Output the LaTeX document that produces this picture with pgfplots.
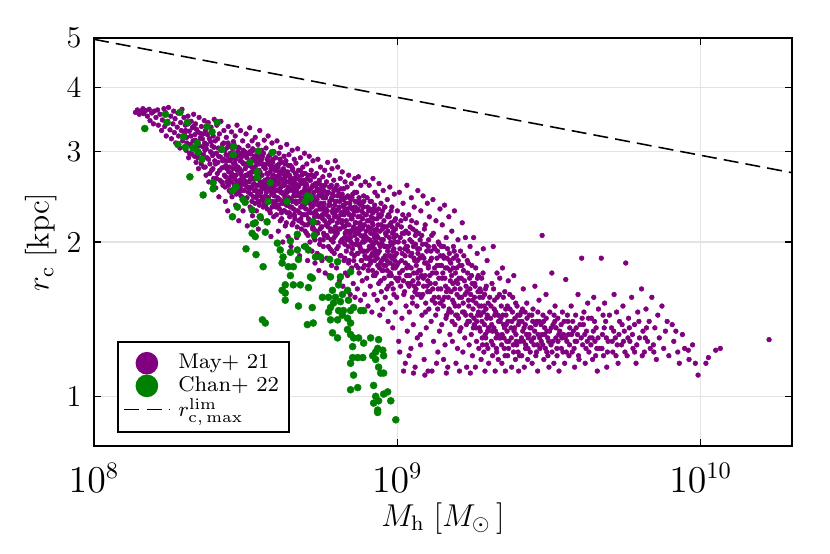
\documentclass[border=0pt]{standalone}
\usepackage{pgfplots}
\pgfplotsset{compat=1.18}
\definecolor{jpurple}{RGB}{128,0,128}
\definecolor{jgreen}{RGB}{0,128,0}
\begin{document}
\begin{tikzpicture}
\begin{axis}[
  at={(0,0)}, anchor=south west,
  scale only axis, width=265.24pt, height=155.04pt,
  xmode=log, ymode=log,
  xmin=1e8, xmax=2e10, ymin=0.8, ymax=5,
  xtick={1e8,1e9,1e10},
  ytick={1,2,3,4,5}, yticklabels={1,2,3,4,5},
  xminorticks=false, yminorticks=false,
  grid=major, major grid style={black!11, line width=0.4pt},
  tick align=inside, xtick pos=both, ytick pos=both,
  major tick length=2.8pt,
  tick style={black, line width=0.5pt},
  axis line style={black, line width=0.6pt},
  xticklabel style={font=\fontsize{13.5}{15}\selectfont, anchor=north, inner sep=0pt, yshift=-6.5pt},
  yticklabel style={font=\fontsize{11.5}{13}\selectfont, anchor=east, inner sep=0pt, xshift=-4.6pt},
  xlabel={$M_{\mathrm{h}}\;[M_{\odot}\,]$},
  ylabel={$r_{\mathrm{c}}\;[\mathrm{kpc}]$},
  xlabel style={font=\fontsize{11.5}{13}\selectfont, at={(axis description cs:0.5,0)}, anchor=north, inner sep=0pt, yshift=-21.3pt},
  ylabel style={font=\fontsize{11.5}{13}\selectfont, at={(axis description cs:-0.053,0.5)}, anchor=south, inner sep=0pt},
  legend cell align=left,
  legend style={at={(0.033,0.032)}, anchor=south west, draw=black, line width=0.6pt,
    font=\fontsize{8.1}{10}\selectfont, row sep=0pt, inner xsep=2.2pt, inner ysep=3.8pt,
    nodes={inner xsep=1.6pt, inner ysep=0.5pt},
    /tikz/every odd column/.append style={column sep=1.5pt}},
]
\addplot[only marks, mark=*, mark size=0.9pt, color=jpurple, mark options={line width=0.2pt}, forget plot]
table[row sep=\\] {m r\\
1.37e8 3.58\\ 1.39e8 3.62\\ 1.41e8 3.55\\ 1.43e8 3.60\\ 1.45e8 3.64\\ 1.46e8 3.56\\
1.48e8 3.61\\ 1.50e8 3.52\\ 1.52e8 3.63\\ 1.53e8 3.45\\ 1.55e8 3.57\\ 1.57e8 3.40\\ 1.58e8 3.60\\
1.60e8 3.50\\ 1.62e8 3.62\\ 1.63e8 3.38\\ 1.65e8 3.55\\ 1.67e8 3.30\\ 1.68e8 3.46\\ 1.70e8 3.64\\ 1.71e8 3.36\\
1.72e8 3.58\\ 1.73e8 3.22\\ 1.75e8 3.44\\ 1.76e8 3.66\\ 1.78e8 3.31\\ 1.79e8 3.52\\ 1.80e8 3.18\\ 1.82e8 3.40\\ 1.83e8 3.60\\ 1.84e8 3.27\\
1.85e8 3.48\\ 1.86e8 3.12\\ 1.88e8 3.35\\ 1.89e8 3.57\\ 1.90e8 3.22\\ 1.92e8 3.05\\ 1.93e8 3.42\\ 1.94e8 3.30\\ 1.95e8 3.63\\ 1.96e8 3.15\\ 1.98e8 3.50\\ 1.99e8 3.26\\
2.00e8 3.38\\ 2.01e8 3.02\\ 2.02e8 3.20\\ 2.04e8 3.52\\ 2.05e8 2.92\\ 2.06e8 3.29\\ 2.08e8 3.10\\ 2.09e8 3.44\\ 2.10e8 2.97\\ 2.11e8 3.34\\ 2.12e8 3.15\\ 2.13e8 3.55\\ 2.14e8 3.05\\ 2.15e8 3.24\\
2.16e8 3.40\\ 2.17e8 2.86\\ 2.18e8 3.12\\ 2.20e8 3.28\\ 2.21e8 2.78\\ 2.22e8 3.50\\ 2.23e8 2.98\\ 2.24e8 3.19\\ 2.26e8 3.36\\ 2.27e8 2.90\\ 2.28e8 3.07\\ 2.29e8 3.25\\ 2.30e8 2.80\\ 2.31e8 3.45\\ 2.32e8 3.02\\
2.33e8 3.30\\ 2.34e8 2.70\\ 2.35e8 3.10\\ 2.36e8 2.92\\ 2.38e8 3.42\\ 2.39e8 2.62\\ 2.40e8 3.18\\ 2.41e8 2.84\\ 2.42e8 3.00\\ 2.43e8 3.35\\ 2.44e8 2.76\\ 2.45e8 3.08\\ 2.46e8 2.95\\ 2.47e8 3.22\\ 2.48e8 2.66\\ 2.49e8 3.47\\ 2.50e8 2.88\\
2.51e8 3.15\\ 2.52e8 2.55\\ 2.53e8 2.98\\ 2.54e8 3.38\\ 2.55e8 2.72\\ 2.56e8 2.86\\ 2.57e8 3.05\\ 2.58e8 2.45\\ 2.59e8 3.25\\ 2.60e8 2.64\\ 2.61e8 2.93\\ 2.62e8 3.44\\ 2.64e8 2.79\\ 2.65e8 3.10\\ 2.66e8 2.58\\ 2.67e8 2.90\\ 2.68e8 3.30\\ 2.69e8 2.70\\
2.70e8 3.02\\ 2.71e8 2.40\\ 2.72e8 2.82\\ 2.73e8 3.20\\ 2.74e8 2.62\\ 2.75e8 2.95\\ 2.76e8 2.30\\ 2.77e8 3.36\\ 2.78e8 2.74\\ 2.79e8 2.52\\ 2.80e8 3.08\\ 2.81e8 2.88\\ 2.82e8 2.68\\ 2.84e8 3.28\\ 2.85e8 2.45\\ 2.86e8 2.98\\ 2.87e8 2.78\\ 2.88e8 3.14\\ 2.90e8 2.58\\ 2.91e8 2.85\\
2.92e8 3.22\\ 2.93e8 2.36\\ 2.94e8 2.70\\ 2.95e8 2.94\\ 2.96e8 3.38\\ 2.97e8 2.55\\ 2.98e8 2.80\\ 3.00e8 2.20\\ 3.01e8 3.05\\ 3.02e8 2.64\\ 3.03e8 2.88\\ 3.04e8 3.30\\ 3.05e8 2.46\\ 3.06e8 2.75\\ 3.07e8 2.98\\ 3.08e8 2.60\\ 3.09e8 3.15\\ 3.10e8 2.30\\ 3.11e8 2.84\\ 3.12e8 2.68\\ 3.13e8 2.52\\ 3.14e8 3.00\\
3.15e8 2.78\\ 3.16e8 2.42\\ 3.17e8 3.25\\ 3.18e8 2.62\\ 3.19e8 2.92\\ 3.20e8 2.15\\ 3.21e8 2.70\\ 3.22e8 3.08\\ 3.23e8 2.50\\ 3.25e8 2.86\\ 3.26e8 3.34\\ 3.27e8 2.34\\ 3.28e8 2.65\\ 3.29e8 2.97\\ 3.30e8 2.56\\ 3.31e8 2.80\\ 3.32e8 3.15\\ 3.33e8 2.25\\ 3.34e8 2.74\\ 3.35e8 2.45\\ 3.36e8 3.02\\ 3.37e8 2.60\\ 3.38e8 2.89\\ 3.39e8 2.38\\
3.40e8 3.20\\ 3.41e8 2.58\\ 3.42e8 2.82\\ 3.43e8 2.30\\ 3.44e8 2.95\\ 3.45e8 2.68\\ 3.46e8 2.48\\ 3.47e8 3.10\\ 3.48e8 2.12\\ 3.50e8 2.76\\ 3.51e8 2.40\\ 3.52e8 3.30\\ 3.53e8 2.62\\ 3.54e8 2.88\\ 3.55e8 2.52\\ 3.56e8 2.22\\ 3.57e8 3.02\\ 3.58e8 2.70\\ 3.59e8 2.44\\ 3.60e8 2.84\\ 3.61e8 2.34\\ 3.62e8 2.98\\ 3.63e8 2.56\\ 3.64e8 3.16\\ 3.66e8 2.64\\
3.67e8 2.78\\ 3.68e8 2.36\\ 3.69e8 3.05\\ 3.70e8 2.50\\ 3.72e8 2.90\\ 3.73e8 2.18\\ 3.74e8 2.66\\ 3.75e8 3.22\\ 3.76e8 2.44\\ 3.77e8 2.72\\ 3.79e8 2.58\\ 3.80e8 2.96\\ 3.81e8 2.28\\ 3.82e8 2.82\\ 3.83e8 2.05\\ 3.85e8 2.62\\ 3.86e8 3.12\\ 3.87e8 2.40\\ 3.88e8 2.86\\ 3.89e8 2.54\\ 3.90e8 2.70\\ 3.91e8 2.24\\ 3.92e8 3.00\\ 3.93e8 2.46\\ 3.94e8 2.76\\ 3.95e8 2.60\\
3.97e8 2.92\\ 3.98e8 2.34\\ 4.00e8 2.68\\ 4.01e8 3.15\\ 4.02e8 2.52\\ 4.04e8 2.80\\ 4.05e8 2.10\\ 4.06e8 2.60\\ 4.07e8 2.98\\ 4.09e8 2.42\\ 4.10e8 2.74\\ 4.11e8 2.20\\ 4.12e8 3.06\\ 4.14e8 2.56\\ 4.15e8 2.86\\ 4.16e8 2.38\\ 4.17e8 2.64\\ 4.19e8 2.00\\ 4.20e8 2.48\\ 4.21e8 2.78\\ 4.22e8 2.30\\ 4.23e8 2.94\\ 4.24e8 2.58\\ 4.25e8 2.70\\ 4.26e8 2.44\\ 4.27e8 2.15\\
4.28e8 2.62\\ 4.29e8 2.88\\ 4.31e8 2.36\\ 4.32e8 3.10\\ 4.33e8 2.50\\ 4.35e8 2.74\\ 4.36e8 2.05\\ 4.37e8 2.56\\ 4.39e8 2.96\\ 4.40e8 2.28\\ 4.42e8 2.68\\ 4.43e8 2.42\\ 4.44e8 2.82\\ 4.46e8 1.96\\ 4.47e8 2.60\\ 4.48e8 2.34\\ 4.50e8 3.02\\ 4.51e8 2.52\\ 4.52e8 2.76\\ 4.53e8 2.18\\ 4.55e8 2.46\\ 4.56e8 2.66\\ 4.57e8 2.90\\ 4.58e8 2.25\\ 4.59e8 2.58\\ 4.60e8 2.40\\ 4.61e8 2.72\\
4.62e8 2.30\\ 4.63e8 2.85\\ 4.65e8 2.52\\ 4.66e8 2.04\\ 4.68e8 2.66\\ 4.69e8 3.04\\ 4.70e8 2.40\\ 4.72e8 2.76\\ 4.73e8 2.20\\ 4.74e8 2.58\\ 4.76e8 1.88\\ 4.77e8 2.46\\ 4.79e8 2.92\\ 4.80e8 2.34\\ 4.81e8 2.62\\ 4.83e8 2.12\\ 4.84e8 2.70\\ 4.86e8 2.50\\ 4.87e8 2.26\\ 4.88e8 2.80\\ 4.90e8 1.96\\ 4.91e8 2.44\\ 4.92e8 2.64\\ 4.93e8 2.38\\ 4.94e8 2.98\\ 4.95e8 2.16\\ 4.96e8 2.55\\ 4.97e8 2.72\\
4.99e8 2.32\\ 5.00e8 2.60\\ 5.02e8 2.08\\ 5.03e8 2.84\\ 5.05e8 2.46\\ 5.06e8 1.84\\ 5.08e8 2.70\\ 5.09e8 2.22\\ 5.11e8 2.52\\ 5.12e8 2.94\\ 5.14e8 2.38\\ 5.15e8 2.00\\ 5.17e8 2.64\\ 5.18e8 2.28\\ 5.20e8 2.76\\ 5.21e8 2.44\\ 5.23e8 1.92\\ 5.24e8 2.56\\ 5.26e8 2.14\\ 5.27e8 2.88\\ 5.29e8 2.36\\ 5.30e8 2.50\\ 5.31e8 2.04\\ 5.32e8 2.68\\ 5.33e8 2.24\\ 5.34e8 2.42\\ 5.35e8 1.82\\ 5.36e8 2.58\\
5.38e8 2.40\\ 5.39e8 2.10\\ 5.41e8 2.72\\ 5.42e8 2.26\\ 5.44e8 1.90\\ 5.45e8 2.54\\ 5.47e8 2.90\\ 5.48e8 2.18\\ 5.50e8 2.46\\ 5.51e8 1.76\\ 5.53e8 2.64\\ 5.55e8 2.32\\ 5.56e8 2.02\\ 5.58e8 2.80\\ 5.59e8 2.38\\ 5.61e8 2.14\\ 5.62e8 2.58\\ 5.64e8 1.84\\ 5.65e8 2.48\\ 5.67e8 2.22\\ 5.68e8 2.68\\ 5.70e8 1.96\\ 5.71e8 2.34\\ 5.73e8 2.52\\ 5.74e8 2.06\\ 5.76e8 2.76\\ 5.77e8 2.28\\ 5.78e8 1.74\\
5.80e8 2.44\\ 5.82e8 2.16\\ 5.84e8 2.62\\ 5.85e8 1.86\\ 5.87e8 2.30\\ 5.89e8 2.86\\ 5.90e8 2.04\\ 5.92e8 2.50\\ 5.94e8 2.24\\ 5.95e8 1.72\\ 5.97e8 2.70\\ 5.99e8 2.36\\ 6.00e8 1.94\\ 6.02e8 2.56\\ 6.04e8 2.12\\ 6.05e8 2.42\\ 6.07e8 1.80\\ 6.09e8 2.78\\ 6.10e8 2.20\\ 6.12e8 2.48\\ 6.14e8 2.00\\ 6.15e8 2.32\\ 6.17e8 2.64\\ 6.19e8 1.90\\ 6.20e8 2.10\\ 6.22e8 2.54\\ 6.23e8 2.26\\ 6.24e8 2.88\\
6.26e8 2.06\\ 6.28e8 2.40\\ 6.30e8 1.78\\ 6.32e8 2.58\\ 6.34e8 2.18\\ 6.36e8 2.80\\ 6.38e8 1.96\\ 6.40e8 2.32\\ 6.42e8 2.48\\ 6.44e8 1.68\\ 6.46e8 2.12\\ 6.48e8 2.66\\ 6.50e8 2.26\\ 6.52e8 1.88\\ 6.54e8 2.44\\ 6.56e8 2.02\\ 6.58e8 2.74\\ 6.59e8 2.20\\ 6.61e8 1.64\\ 6.63e8 2.36\\ 6.65e8 2.54\\ 6.67e8 1.84\\ 6.68e8 2.14\\ 6.70e8 2.30\\ 6.71e8 1.98\\ 6.72e8 2.62\\ 6.73e8 2.08\\ 6.74e8 1.74\\
6.77e8 2.38\\ 6.79e8 1.92\\ 6.81e8 2.16\\ 6.83e8 2.56\\ 6.85e8 1.72\\ 6.87e8 2.28\\ 6.89e8 2.04\\ 6.91e8 2.70\\ 6.93e8 1.84\\ 6.95e8 2.44\\ 6.97e8 2.10\\ 6.99e8 1.58\\ 7.01e8 2.34\\ 7.03e8 2.00\\ 7.05e8 2.60\\ 7.07e8 1.78\\ 7.09e8 2.22\\ 7.11e8 1.94\\ 7.13e8 2.48\\ 7.15e8 1.66\\ 7.17e8 2.14\\ 7.19e8 2.30\\ 7.21e8 1.88\\ 7.23e8 2.06\\ 7.24e8 2.66\\ 7.25e8 1.56\\ 7.26e8 2.40\\ 7.27e8 1.98\\
7.30e8 2.18\\ 7.32e8 1.80\\ 7.34e8 2.50\\ 7.36e8 2.02\\ 7.38e8 1.62\\ 7.40e8 2.32\\ 7.42e8 1.90\\ 7.44e8 2.68\\ 7.46e8 2.10\\ 7.48e8 1.74\\ 7.50e8 2.40\\ 7.52e8 1.96\\ 7.54e8 2.24\\ 7.56e8 1.54\\ 7.58e8 2.58\\ 7.60e8 1.84\\ 7.62e8 2.12\\ 7.64e8 2.36\\ 7.66e8 1.68\\ 7.68e8 2.00\\ 7.70e8 2.28\\ 7.72e8 1.78\\ 7.74e8 2.46\\ 7.76e8 1.92\\ 7.78e8 2.16\\ 7.80e8 1.58\\ 7.82e8 2.06\\ 7.84e8 2.62\\
7.88e8 1.86\\ 7.90e8 2.26\\ 7.93e8 1.70\\ 7.95e8 2.44\\ 7.98e8 2.02\\ 8.00e8 1.50\\ 8.02e8 2.14\\ 8.05e8 1.80\\ 8.07e8 2.58\\ 8.10e8 1.94\\ 8.12e8 2.32\\ 8.14e8 1.64\\ 8.17e8 2.08\\ 8.19e8 1.88\\ 8.21e8 2.40\\ 8.24e8 1.46\\ 8.26e8 2.18\\ 8.28e8 1.76\\ 8.31e8 2.66\\ 8.33e8 1.98\\ 8.35e8 2.22\\ 8.37e8 1.58\\ 8.40e8 2.04\\ 8.42e8 1.84\\ 8.43e8 2.50\\ 8.44e8 1.72\\ 8.46e8 2.10\\ 8.47e8 1.92\\
8.50e8 2.30\\ 8.53e8 1.74\\ 8.55e8 2.06\\ 8.58e8 1.54\\ 8.60e8 2.46\\ 8.63e8 1.90\\ 8.65e8 2.16\\ 8.68e8 1.66\\ 8.70e8 2.60\\ 8.73e8 1.98\\ 8.75e8 1.44\\ 8.78e8 2.24\\ 8.80e8 1.82\\ 8.83e8 2.38\\ 8.85e8 1.60\\ 8.88e8 2.02\\ 8.90e8 1.76\\ 8.93e8 2.12\\ 8.95e8 1.48\\ 8.98e8 2.52\\ 9.00e8 1.86\\ 9.03e8 2.20\\ 9.05e8 1.70\\ 9.08e8 1.96\\ 9.10e8 2.34\\ 9.12e8 1.56\\ 9.14e8 2.08\\
9.17e8 1.80\\ 9.20e8 2.14\\ 9.23e8 1.62\\ 9.26e8 2.42\\ 9.29e8 1.92\\ 9.32e8 1.40\\ 9.35e8 2.26\\ 9.38e8 1.72\\ 9.41e8 2.04\\ 9.44e8 2.56\\ 9.47e8 1.52\\ 9.50e8 1.88\\ 9.53e8 2.18\\ 9.56e8 1.66\\ 9.59e8 2.34\\ 9.62e8 1.98\\ 9.65e8 1.36\\ 9.68e8 1.78\\ 9.71e8 2.10\\ 9.74e8 1.58\\ 9.77e8 2.48\\ 9.80e8 1.84\\ 9.82e8 2.00\\ 9.84e8 1.46\\ 9.86e8 2.22\\ 9.88e8 1.70\\
9.91e8 2.06\\ 9.95e8 1.56\\ 1.000e9 2.30\\ 1.006e9 1.82\\ 1.010e9 1.28\\ 1.015e9 2.50\\ 1.020e9 1.94\\ 1.025e9 1.64\\ 1.030e9 2.14\\ 1.035e9 1.42\\ 1.040e9 1.76\\ 1.044e9 2.38\\ 1.048e9 1.12\\ 1.052e9 2.00\\ 1.056e9 1.60\\ 1.060e9 1.88\\ 1.064e9 2.22\\ 1.068e9 1.50\\ 1.072e9 1.72\\ 1.075e9 2.58\\ 1.078e9 1.34\\ 1.080e9 1.96\\ 1.003e9 1.68\\ 1.018e9 1.22\\ 1.038e9 2.08\\ 1.062e9 1.16\\
1.085e9 1.80\\ 1.090e9 2.26\\ 1.095e9 1.46\\ 1.100e9 2.02\\ 1.104e9 1.66\\ 1.108e9 1.24\\ 1.112e9 2.44\\ 1.116e9 1.90\\ 1.120e9 1.56\\ 1.124e9 2.12\\ 1.128e9 1.38\\ 1.132e9 1.74\\ 1.136e9 2.34\\ 1.140e9 1.84\\ 1.144e9 1.14\\ 1.148e9 1.98\\ 1.152e9 1.62\\ 1.156e9 2.18\\ 1.160e9 1.50\\ 1.163e9 1.30\\ 1.166e9 1.94\\ 1.168e9 2.52\\ 1.170e9 1.70\\ 1.092e9 1.20\\ 1.130e9 1.11\\
1.175e9 2.08\\ 1.180e9 1.58\\ 1.185e9 1.86\\ 1.190e9 1.32\\ 1.195e9 2.30\\ 1.200e9 1.72\\ 1.205e9 1.44\\ 1.210e9 1.98\\ 1.215e9 2.46\\ 1.220e9 1.64\\ 1.225e9 1.18\\ 1.230e9 1.82\\ 1.235e9 2.16\\ 1.240e9 1.52\\ 1.245e9 1.36\\ 1.250e9 1.92\\ 1.255e9 2.38\\ 1.260e9 1.68\\ 1.262e9 1.12\\ 1.265e9 1.78\\ 1.268e9 2.02\\ 1.270e9 1.48\\ 1.192e9 1.26\\ 1.232e9 1.10\\
1.275e9 2.24\\ 1.280e9 1.60\\ 1.286e9 1.84\\ 1.292e9 1.40\\ 1.298e9 2.06\\ 1.304e9 1.74\\ 1.310e9 2.42\\ 1.316e9 1.28\\ 1.322e9 1.56\\ 1.328e9 1.94\\ 1.334e9 1.66\\ 1.340e9 2.20\\ 1.346e9 1.16\\ 1.352e9 1.80\\ 1.358e9 1.48\\ 1.364e9 2.00\\ 1.370e9 1.70\\ 1.376e9 1.34\\ 1.382e9 2.32\\ 1.386e9 1.88\\ 1.300e9 1.12\\ 1.360e9 1.22\\
1.390e9 1.62\\ 1.395e9 1.96\\ 1.400e9 1.38\\ 1.406e9 2.16\\ 1.412e9 1.74\\ 1.418e9 1.50\\ 1.424e9 1.86\\ 1.430e9 2.36\\ 1.436e9 1.26\\ 1.442e9 1.64\\ 1.448e9 2.04\\ 1.454e9 1.44\\ 1.460e9 1.78\\ 1.466e9 1.14\\ 1.472e9 1.56\\ 1.478e9 2.24\\ 1.484e9 1.90\\ 1.490e9 1.32\\ 1.495e9 1.68\\ 1.420e9 1.18\\ 1.450e9 1.11\\
1.500e9 1.82\\ 1.506e9 1.46\\ 1.512e9 2.10\\ 1.518e9 1.28\\ 1.524e9 1.66\\ 1.530e9 1.96\\ 1.536e9 1.52\\ 1.542e9 2.30\\ 1.548e9 1.38\\ 1.554e9 1.74\\ 1.560e9 1.16\\ 1.566e9 1.88\\ 1.572e9 1.58\\ 1.578e9 1.24\\ 1.584e9 2.02\\ 1.590e9 1.42\\ 1.596e9 1.70\\ 1.602e9 1.12\\ 1.606e9 1.34\\ 1.610e9 1.62\\
1.615e9 1.92\\ 1.620e9 1.36\\ 1.628e9 1.56\\ 1.636e9 2.18\\ 1.644e9 1.22\\ 1.652e9 1.76\\ 1.660e9 1.46\\ 1.668e9 1.30\\ 1.676e9 2.04\\ 1.684e9 1.64\\ 1.692e9 1.14\\ 1.700e9 1.84\\ 1.708e9 1.40\\ 1.716e9 1.54\\ 1.724e9 1.26\\ 1.730e9 1.70\\ 1.736e9 1.96\\ 1.740e9 1.11\\
1.745e9 1.58\\ 1.752e9 1.32\\ 1.760e9 1.80\\ 1.768e9 1.20\\ 1.776e9 1.48\\ 1.784e9 2.04\\ 1.792e9 1.38\\ 1.800e9 1.66\\ 1.808e9 1.14\\ 1.816e9 1.52\\ 1.824e9 1.28\\ 1.832e9 1.90\\ 1.840e9 1.44\\ 1.848e9 1.72\\ 1.856e9 1.24\\ 1.864e9 1.36\\ 1.872e9 1.62\\
1.880e9 1.44\\ 1.888e9 1.18\\ 1.896e9 1.70\\ 1.904e9 1.30\\ 1.912e9 1.56\\ 1.920e9 1.94\\ 1.928e9 1.22\\ 1.936e9 1.38\\ 1.944e9 1.12\\ 1.952e9 1.62\\ 1.960e9 1.48\\ 1.968e9 1.26\\ 1.976e9 1.84\\ 1.984e9 1.34\\ 1.992e9 1.52\\ 2.000e9 1.16\\
2.03e9 1.42\\ 2.04e9 1.28\\ 2.05e9 1.66\\ 2.06e9 1.20\\ 2.07e9 1.96\\ 2.08e9 1.36\\ 2.09e9 1.54\\ 2.10e9 1.12\\ 2.11e9 1.46\\ 2.12e9 1.24\\ 2.13e9 1.74\\ 2.14e9 1.32\\ 2.15e9 1.18\\ 2.17e9 1.58\\ 2.18e9 1.40\\
2.19e9 1.30\\ 2.20e9 1.50\\ 2.21e9 1.16\\ 2.22e9 1.78\\ 2.24e9 1.38\\ 2.25e9 1.24\\ 2.26e9 1.60\\ 2.27e9 1.12\\ 2.28e9 1.44\\ 2.30e9 1.34\\ 2.31e9 1.20\\ 2.32e9 1.68\\ 2.33e9 1.28\\ 2.35e9 1.48\\
2.37e9 1.36\\ 2.38e9 1.14\\ 2.40e9 1.56\\ 2.41e9 1.26\\ 2.42e9 1.72\\ 2.44e9 1.42\\ 2.45e9 1.18\\ 2.46e9 1.32\\ 2.48e9 1.50\\ 2.50e9 1.22\\ 2.51e9 1.12\\ 2.52e9 1.40\\ 2.54e9 1.28\\
2.56e9 1.46\\ 2.57e9 1.20\\ 2.59e9 1.34\\ 2.60e9 1.62\\ 2.62e9 1.14\\ 2.64e9 1.38\\ 2.65e9 1.26\\ 2.67e9 1.52\\ 2.69e9 1.18\\ 2.70e9 1.30\\ 2.72e9 1.44\\ 2.74e9 1.22\\
2.76e9 1.36\\ 2.78e9 1.16\\ 2.80e9 1.48\\ 2.82e9 1.26\\ 2.84e9 1.64\\ 2.86e9 1.20\\ 2.88e9 1.40\\ 2.90e9 1.12\\ 2.91e9 1.32\\ 2.93e9 1.54\\ 2.95e9 1.24\\
2.98e9 1.28\\ 3.00e9 2.06\\ 3.02e9 1.44\\ 3.04e9 1.18\\ 3.06e9 1.36\\ 3.09e9 1.58\\ 3.11e9 1.22\\ 3.13e9 1.30\\ 3.16e9 1.14\\ 3.18e9 1.46\\
3.21e9 1.26\\ 3.23e9 1.74\\ 3.26e9 1.38\\ 3.28e9 1.16\\ 3.31e9 1.50\\ 3.33e9 1.30\\ 3.36e9 1.20\\ 3.38e9 1.42\\ 3.41e9 1.12\\ 3.43e9 1.34\\
3.47e9 1.24\\ 3.50e9 1.46\\ 3.53e9 1.32\\ 3.56e9 1.16\\ 3.59e9 1.69\\ 3.62e9 1.28\\ 3.65e9 1.40\\ 3.68e9 1.20\\ 3.70e9 1.36\\
3.74e9 1.50\\ 3.77e9 1.22\\ 3.80e9 1.34\\ 3.84e9 1.14\\ 3.87e9 1.44\\ 3.90e9 1.28\\ 3.94e9 1.58\\ 3.97e9 1.18\\ 4.00e9 1.38\\
4.05e9 1.86\\ 4.08e9 1.26\\ 4.12e9 1.46\\ 4.16e9 1.16\\ 4.20e9 1.34\\ 4.24e9 1.52\\ 4.28e9 1.22\\ 4.31e9 1.30\\
4.36e9 1.42\\ 4.40e9 1.18\\ 4.44e9 1.56\\ 4.48e9 1.28\\ 4.52e9 1.36\\ 4.56e9 1.12\\ 4.60e9 1.48\\ 4.64e9 1.24\\
4.70e9 1.86\\ 4.74e9 1.32\\ 4.78e9 1.20\\ 4.82e9 1.52\\ 4.86e9 1.40\\ 4.90e9 1.14\\ 4.95e9 1.28\\ 5.00e9 1.44\\
5.08e9 1.36\\ 5.13e9 1.22\\ 5.18e9 1.58\\ 5.23e9 1.30\\ 5.28e9 1.46\\ 5.34e9 1.16\\ 5.40e9 1.40\\
5.48e9 1.26\\ 5.54e9 1.50\\ 5.60e9 1.34\\ 5.66e9 1.82\\ 5.72e9 1.20\\ 5.78e9 1.42\\ 5.84e9 1.28\\
5.92e9 1.56\\ 5.98e9 1.24\\ 6.05e9 1.38\\ 6.12e9 1.16\\ 6.20e9 1.46\\ 6.28e9 1.30\\
6.38e9 1.62\\ 6.45e9 1.34\\ 6.52e9 1.22\\ 6.60e9 1.48\\ 6.68e9 1.28\\ 6.76e9 1.40\\
6.90e9 1.56\\ 6.98e9 1.26\\ 7.06e9 1.36\\ 7.14e9 1.18\\ 7.22e9 1.44\\ 7.30e9 1.30\\
7.45e9 1.50\\ 7.55e9 1.24\\ 7.65e9 1.34\\ 7.75e9 1.40\\ 7.85e9 1.20\\
8.05e9 1.38\\ 8.15e9 1.28\\ 8.28e9 1.34\\ 8.40e9 1.22\\ 8.50e9 1.16\\
8.70e9 1.32\\ 8.85e9 1.24\\ 9.10e9 1.23\\ 9.15e9 1.18\\
9.40e9 1.26\\ 9.60e9 1.16\\ 9.80e9 1.10\\
1.04e10 1.16\\ 1.06e10 1.19\\ 1.12e10 1.23\\ 1.16e10 1.24\\
1.68e10 1.29\\
};
\addplot[only marks, mark=*, mark size=0.9pt, color=jpurple, mark options={line width=0.2pt}, forget plot]
table[row sep=\\] {m r\\
2.005e8 3.30\\ 2.025e8 3.12\\ 2.045e8 3.40\\ 2.065e8 2.98\\ 2.085e8 3.22\\ 2.105e8 3.06\\ 2.125e8 3.36\\ 2.145e8 2.94\\
2.155e8 3.16\\ 2.175e8 3.32\\ 2.195e8 2.92\\ 2.215e8 3.08\\ 2.235e8 3.26\\ 2.255e8 2.84\\ 2.275e8 3.18\\ 2.295e8 2.96\\ 2.315e8 3.12\\
2.325e8 2.80\\ 2.345e8 3.04\\ 2.365e8 3.24\\ 2.385e8 2.90\\ 2.405e8 2.72\\ 2.425e8 3.14\\ 2.445e8 2.98\\ 2.465e8 2.78\\ 2.485e8 3.06\\
2.515e8 2.84\\ 2.535e8 2.66\\ 2.555e8 3.18\\ 2.575e8 2.94\\ 2.595e8 2.76\\ 2.615e8 3.02\\ 2.635e8 2.62\\ 2.655e8 2.88\\ 2.675e8 3.12\\ 2.695e8 2.80\\
2.705e8 2.56\\ 2.725e8 2.96\\ 2.745e8 2.78\\ 2.765e8 3.12\\ 2.785e8 2.64\\ 2.805e8 2.90\\ 2.825e8 2.50\\ 2.845e8 2.72\\ 2.865e8 3.04\\ 2.885e8 2.84\\ 2.905e8 2.66\\
2.925e8 2.90\\ 2.945e8 2.48\\ 2.965e8 2.76\\ 2.985e8 3.06\\ 3.005e8 2.60\\ 3.025e8 2.94\\ 3.045e8 2.72\\ 3.065e8 2.52\\ 3.085e8 2.86\\ 3.105e8 3.02\\ 3.125e8 2.64\\
3.155e8 2.58\\ 3.175e8 2.84\\ 3.195e8 2.44\\ 3.215e8 2.98\\ 3.235e8 2.72\\ 3.255e8 2.54\\ 3.275e8 2.88\\ 3.295e8 2.68\\ 3.315e8 2.40\\ 3.335e8 3.04\\ 3.355e8 2.78\\ 3.375e8 2.52\\
3.405e8 2.66\\ 3.425e8 2.44\\ 3.445e8 2.86\\ 3.465e8 2.58\\ 3.485e8 2.96\\ 3.505e8 2.36\\ 3.525e8 2.74\\ 3.545e8 2.50\\ 3.565e8 2.90\\ 3.585e8 2.60\\ 3.605e8 2.42\\ 3.625e8 2.80\\ 3.645e8 2.54\\
3.675e8 2.46\\ 3.705e8 2.84\\ 3.725e8 2.32\\ 3.745e8 2.62\\ 3.765e8 2.94\\ 3.785e8 2.40\\ 3.805e8 2.74\\ 3.825e8 2.52\\ 3.845e8 2.88\\ 3.865e8 2.34\\ 3.885e8 2.68\\ 3.905e8 2.48\\ 3.925e8 2.80\\
3.965e8 2.58\\ 3.995e8 2.26\\ 4.015e8 2.82\\ 4.035e8 2.44\\ 4.065e8 2.70\\ 4.085e8 2.32\\ 4.105e8 2.90\\ 4.125e8 2.50\\ 4.155e8 2.22\\ 4.175e8 2.76\\ 4.195e8 2.40\\ 4.215e8 2.62\\ 4.245e8 2.30\\ 4.265e8 2.84\\
4.285e8 2.44\\ 4.305e8 2.18\\ 4.325e8 2.70\\ 4.345e8 2.36\\ 4.375e8 2.82\\ 4.395e8 2.52\\ 4.415e8 2.24\\ 4.445e8 2.64\\ 4.465e8 2.42\\ 4.495e8 2.16\\ 4.515e8 2.78\\ 4.545e8 2.32\\ 4.565e8 2.56\\ 4.595e8 2.22\\
4.615e8 2.60\\ 4.645e8 2.38\\ 4.675e8 2.14\\ 4.705e8 2.68\\ 4.725e8 2.48\\ 4.755e8 2.28\\ 4.785e8 2.76\\ 4.815e8 2.42\\ 4.845e8 2.18\\ 4.875e8 2.60\\ 4.905e8 2.34\\ 4.935e8 2.52\\ 4.965e8 2.10\\
4.985e8 2.48\\ 5.015e8 2.26\\ 5.045e8 2.66\\ 5.075e8 2.06\\ 5.105e8 2.40\\ 5.135e8 2.18\\ 5.165e8 2.54\\ 5.195e8 2.34\\ 5.225e8 2.70\\ 5.255e8 2.12\\ 5.285e8 2.46\\ 5.315e8 2.28\\ 5.345e8 2.02\\ 5.365e8 2.60\\
5.395e8 2.30\\ 5.425e8 2.52\\ 5.455e8 2.08\\ 5.485e8 2.36\\ 5.515e8 2.62\\ 5.545e8 1.98\\ 5.575e8 2.24\\ 5.605e8 2.46\\ 5.635e8 2.14\\ 5.665e8 2.56\\ 5.695e8 2.02\\ 5.725e8 2.38\\ 5.755e8 2.20\\ 5.785e8 2.44\\
5.815e8 2.32\\ 5.855e8 2.06\\ 5.885e8 2.50\\ 5.925e8 1.96\\ 5.955e8 2.18\\ 5.985e8 2.40\\ 6.025e8 2.10\\ 6.055e8 2.58\\ 6.085e8 1.92\\ 6.125e8 2.28\\ 6.155e8 2.46\\ 6.185e8 2.04\\ 6.215e8 2.36\\ 6.245e8 2.14\\
6.275e8 2.24\\ 6.315e8 1.94\\ 6.355e8 2.46\\ 6.395e8 2.12\\ 6.435e8 2.34\\ 6.475e8 1.88\\ 6.515e8 2.54\\ 6.555e8 2.18\\ 6.595e8 2.00\\ 6.635e8 2.42\\ 6.675e8 2.26\\ 6.715e8 1.86\\ 6.745e8 2.08\\
6.785e8 2.20\\ 6.825e8 2.02\\ 6.865e8 2.46\\ 6.905e8 1.82\\ 6.945e8 2.26\\ 6.985e8 2.08\\ 7.025e8 2.42\\ 7.065e8 1.90\\ 7.105e8 2.32\\ 7.145e8 2.12\\ 7.185e8 1.84\\ 7.225e8 2.50\\ 7.265e8 2.18\\
7.315e8 1.98\\ 7.355e8 2.30\\ 7.395e8 2.08\\ 7.435e8 1.78\\ 7.475e8 2.44\\ 7.515e8 2.14\\ 7.555e8 1.94\\ 7.595e8 2.36\\ 7.635e8 1.84\\ 7.675e8 2.22\\ 7.715e8 2.04\\ 7.755e8 2.40\\ 7.795e8 1.80\\ 7.835e8 2.26\\
7.895e8 2.10\\ 7.935e8 1.92\\ 7.975e8 2.34\\ 8.015e8 1.76\\ 8.055e8 2.20\\ 8.095e8 2.02\\ 8.135e8 2.40\\ 8.175e8 1.84\\ 8.215e8 2.12\\ 8.255e8 1.96\\ 8.295e8 2.28\\ 8.335e8 1.72\\ 8.375e8 2.06\\ 8.415e8 2.36\\ 8.455e8 1.88\\
8.515e8 2.00\\ 8.565e8 2.22\\ 8.615e8 1.80\\ 8.665e8 2.32\\ 8.715e8 1.92\\ 8.765e8 2.10\\ 8.815e8 1.68\\ 8.865e8 2.26\\ 8.915e8 1.98\\ 8.965e8 1.76\\ 9.015e8 2.14\\ 9.065e8 2.34\\ 9.115e8 1.88\\
9.185e8 2.06\\ 9.235e8 1.84\\ 9.285e8 2.24\\ 9.335e8 1.64\\ 9.385e8 1.96\\ 9.435e8 2.16\\ 9.485e8 1.74\\ 9.535e8 2.30\\ 9.585e8 1.86\\ 9.635e8 2.08\\ 9.685e8 1.62\\ 9.735e8 1.94\\ 9.785e8 2.20\\ 9.835e8 1.78\\
9.935e8 1.90\\ 1.002e9 2.16\\ 1.012e9 1.70\\ 1.022e9 2.04\\ 1.032e9 1.84\\ 1.042e9 2.26\\ 1.050e9 1.58\\ 1.058e9 1.94\\ 1.066e9 2.10\\ 1.074e9 1.78\\ 1.082e9 1.66\\
1.088e9 2.08\\ 1.098e9 1.72\\ 1.106e9 1.88\\ 1.114e9 2.20\\ 1.122e9 1.52\\ 1.130e9 1.96\\ 1.138e9 1.64\\ 1.146e9 2.06\\ 1.154e9 1.80\\ 1.162e9 1.58\\ 1.169e9 1.90\\
1.178e9 1.76\\ 1.188e9 2.02\\ 1.198e9 1.56\\ 1.208e9 1.88\\ 1.218e9 1.70\\ 1.228e9 2.12\\ 1.238e9 1.46\\ 1.248e9 1.82\\ 1.258e9 1.60\\ 1.266e9 1.96\\
1.278e9 1.72\\ 1.290e9 1.92\\ 1.302e9 1.54\\ 1.314e9 2.08\\ 1.326e9 1.78\\ 1.338e9 1.44\\ 1.350e9 1.86\\ 1.362e9 1.62\\ 1.374e9 1.98\\ 1.384e9 1.52\\
1.398e9 1.80\\ 1.410e9 1.54\\ 1.422e9 1.96\\ 1.434e9 1.70\\ 1.446e9 1.42\\ 1.458e9 1.86\\ 1.470e9 1.62\\ 1.482e9 1.48\\ 1.492e9 1.76\\
1.503e9 1.60\\ 1.515e9 1.40\\ 1.527e9 1.78\\ 1.539e9 1.92\\ 1.551e9 1.50\\ 1.563e9 1.68\\ 1.575e9 1.44\\ 1.587e9 1.84\\ 1.599e9 1.56\\
1.624e9 1.70\\ 1.640e9 1.46\\ 1.656e9 1.88\\ 1.672e9 1.58\\ 1.688e9 1.38\\ 1.704e9 1.74\\ 1.720e9 1.50\\ 1.734e9 1.62\\
1.748e9 1.44\\ 1.764e9 1.66\\ 1.780e9 1.36\\ 1.796e9 1.56\\ 1.812e9 1.78\\ 1.828e9 1.40\\ 1.844e9 1.60\\ 1.860e9 1.50\\ 1.876e9 1.34\\
1.884e9 1.60\\ 1.900e9 1.40\\ 1.916e9 1.74\\ 1.932e9 1.50\\ 1.948e9 1.32\\ 1.964e9 1.64\\ 1.980e9 1.44\\ 1.996e9 1.36\\ 2.015e9 1.56\\
2.035e9 1.50\\ 2.055e9 1.34\\ 2.075e9 1.62\\ 2.095e9 1.44\\ 2.115e9 1.30\\ 2.135e9 1.56\\ 2.155e9 1.40\\ 2.175e9 1.70\\
2.195e9 1.42\\ 2.215e9 1.32\\ 2.235e9 1.56\\ 2.255e9 1.36\\ 2.275e9 1.48\\ 2.295e9 1.28\\ 2.315e9 1.40\\ 2.345e9 1.58\\
2.375e9 1.30\\ 2.395e9 1.46\\ 2.425e9 1.34\\ 2.455e9 1.52\\ 2.475e9 1.26\\ 2.505e9 1.38\\ 2.535e9 1.44\\
2.565e9 1.30\\ 2.585e9 1.48\\ 2.615e9 1.36\\ 2.645e9 1.24\\ 2.675e9 1.42\\ 2.715e9 1.32\\
2.765e9 1.28\\ 2.795e9 1.40\\ 2.835e9 1.34\\ 2.875e9 1.22\\ 2.905e9 1.46\\ 2.945e9 1.30\\
2.975e9 1.38\\ 3.015e9 1.26\\ 3.055e9 1.32\\ 3.095e9 1.42\\ 3.135e9 1.20\\ 3.175e9 1.34\\
3.215e9 1.36\\ 3.255e9 1.28\\ 3.305e9 1.40\\ 3.355e9 1.24\\ 3.405e9 1.32\\
3.465e9 1.38\\ 3.515e9 1.22\\ 3.575e9 1.30\\ 3.635e9 1.44\\ 3.695e9 1.26\\
3.755e9 1.32\\ 3.825e9 1.24\\ 3.885e9 1.36\\ 3.955e9 1.20\\
4.035e9 1.30\\ 4.105e9 1.38\\ 4.185e9 1.24\\ 4.265e9 1.42\\
4.345e9 1.26\\ 4.425e9 1.34\\ 4.505e9 1.20\\ 4.585e9 1.30\\
4.725e9 1.24\\ 4.805e9 1.36\\ 4.925e9 1.22\\
5.105e9 1.28\\ 5.255e9 1.20\\ 5.375e9 1.32\\
5.505e9 1.38\\ 5.625e9 1.22\\ 5.755e9 1.30\\
5.955e9 1.32\\ 6.155e9 1.26\\ 6.415e9 1.20\\ 6.625e9 1.36\\ 7.005e9 1.22\\
};
\addplot[only marks, mark=*, mark size=0.9pt, color=jpurple, mark options={line width=0.2pt}, forget plot]
table[row sep=\\] {m r\\
2.715e8 2.68\\ 2.735e8 2.88\\ 2.755e8 3.06\\ 2.775e8 2.58\\ 2.795e8 2.80\\ 2.815e8 2.98\\ 2.835e8 2.62\\ 2.855e8 2.92\\ 2.875e8 2.70\\ 2.895e8 3.10\\
2.935e8 2.82\\ 2.955e8 2.62\\ 2.975e8 3.00\\ 2.995e8 2.50\\ 3.015e8 2.78\\ 3.035e8 2.56\\ 3.055e8 2.92\\ 3.075e8 2.68\\ 3.095e8 2.44\\ 3.115e8 2.96\\
3.165e8 2.70\\ 3.185e8 2.96\\ 3.205e8 2.56\\ 3.225e8 2.82\\ 3.245e8 2.62\\ 3.265e8 3.00\\ 3.285e8 2.48\\ 3.305e8 2.74\\ 3.325e8 2.90\\ 3.345e8 2.58\\ 3.365e8 2.66\\ 3.385e8 2.94\\
3.415e8 2.76\\ 3.435e8 2.52\\ 3.455e8 2.92\\ 3.475e8 2.40\\ 3.495e8 2.66\\ 3.515e8 2.84\\ 3.535e8 2.46\\ 3.555e8 2.70\\ 3.575e8 2.56\\ 3.595e8 2.94\\ 3.615e8 2.62\\ 3.635e8 2.38\\ 3.655e8 2.80\\
3.685e8 2.58\\ 3.715e8 2.72\\ 3.735e8 2.44\\ 3.755e8 2.86\\ 3.775e8 2.54\\ 3.795e8 2.30\\ 3.815e8 2.64\\ 3.835e8 2.78\\ 3.855e8 2.48\\ 3.875e8 2.58\\ 3.895e8 2.90\\ 3.915e8 2.36\\ 3.935e8 2.64\\ 3.955e8 2.52\\
3.975e8 2.40\\ 4.005e8 2.76\\ 4.025e8 2.62\\ 4.055e8 2.36\\ 4.075e8 2.84\\ 4.095e8 2.54\\ 4.115e8 2.66\\ 4.145e8 2.28\\ 4.165e8 2.50\\ 4.185e8 2.72\\ 4.205e8 2.58\\ 4.235e8 2.38\\ 4.255e8 2.66\\ 4.275e8 2.48\\
4.295e8 2.74\\ 4.315e8 2.52\\ 4.335e8 2.28\\ 4.365e8 2.62\\ 4.385e8 2.44\\ 4.405e8 2.70\\ 4.435e8 2.34\\ 4.455e8 2.54\\ 4.485e8 2.80\\ 4.505e8 2.40\\ 4.535e8 2.62\\ 4.555e8 2.26\\ 4.585e8 2.48\\ 4.605e8 2.66\\
4.625e8 2.46\\ 4.655e8 2.70\\ 4.685e8 2.30\\ 4.715e8 2.56\\ 4.745e8 2.40\\ 4.775e8 2.64\\ 4.805e8 2.22\\ 4.835e8 2.50\\ 4.865e8 2.36\\ 4.895e8 2.72\\ 4.925e8 2.26\\ 4.955e8 2.44\\
4.995e8 2.38\\ 5.025e8 2.58\\ 5.055e8 2.16\\ 5.085e8 2.50\\ 5.115e8 2.30\\ 5.145e8 2.64\\ 5.175e8 2.20\\ 5.205e8 2.46\\ 5.235e8 2.34\\ 5.265e8 2.58\\ 5.295e8 2.12\\ 5.325e8 2.40\\ 5.355e8 2.28\\
5.405e8 2.18\\ 5.435e8 2.42\\ 5.465e8 2.60\\ 5.495e8 2.24\\ 5.525e8 2.50\\ 5.565e8 2.12\\ 5.595e8 2.32\\ 5.625e8 2.54\\ 5.655e8 2.26\\ 5.685e8 2.44\\ 5.715e8 2.08\\ 5.745e8 2.30\\ 5.775e8 2.58\\
5.835e8 2.26\\ 5.865e8 2.48\\ 5.905e8 2.14\\ 5.945e8 2.36\\ 5.975e8 2.56\\ 6.015e8 2.20\\ 6.045e8 2.02\\ 6.075e8 2.44\\ 6.115e8 2.30\\ 6.145e8 2.10\\ 6.175e8 2.52\\ 6.205e8 2.24\\ 6.235e8 2.40\\
6.295e8 2.30\\ 6.335e8 2.08\\ 6.375e8 2.52\\ 6.415e8 2.22\\ 6.455e8 2.40\\ 6.495e8 2.00\\ 6.535e8 2.28\\ 6.575e8 2.48\\ 6.615e8 2.14\\ 6.655e8 2.34\\ 6.695e8 2.04\\ 6.735e8 2.44\\
6.805e8 2.10\\ 6.845e8 2.32\\ 6.885e8 1.96\\ 6.925e8 2.16\\ 6.965e8 2.38\\ 7.005e8 2.04\\ 7.045e8 2.22\\ 7.085e8 2.44\\ 7.125e8 1.98\\ 7.165e8 2.26\\ 7.205e8 2.10\\ 7.245e8 2.34\\
7.335e8 2.12\\ 7.375e8 1.90\\ 7.415e8 2.24\\ 7.455e8 2.38\\ 7.495e8 1.98\\ 7.535e8 2.18\\ 7.575e8 2.06\\ 7.615e8 2.30\\ 7.655e8 1.92\\ 7.695e8 2.14\\ 7.735e8 2.34\\ 7.775e8 2.00\\ 7.815e8 1.88\\
7.915e8 2.04\\ 7.955e8 2.20\\ 7.995e8 1.86\\ 8.035e8 2.30\\ 8.075e8 1.96\\ 8.115e8 2.12\\ 8.155e8 1.82\\ 8.195e8 2.24\\ 8.235e8 2.00\\ 8.275e8 1.90\\ 8.315e8 2.16\\ 8.355e8 2.32\\ 8.395e8 1.94\\ 8.435e8 2.08\\
8.535e8 2.12\\ 8.585e8 1.86\\ 8.635e8 2.04\\ 8.685e8 2.26\\ 8.735e8 1.78\\ 8.785e8 1.96\\ 8.835e8 2.16\\ 8.885e8 1.84\\ 8.935e8 2.30\\ 8.985e8 2.02\\ 9.035e8 1.80\\ 9.085e8 2.14\\ 9.135e8 1.96\\
9.205e8 1.96\\ 9.255e8 1.76\\ 9.305e8 2.10\\ 9.355e8 1.88\\ 9.405e8 2.24\\ 9.455e8 1.82\\ 9.505e8 2.00\\ 9.555e8 1.72\\ 9.605e8 2.14\\ 9.655e8 1.92\\ 9.705e8 1.80\\ 9.755e8 2.04\\ 9.805e8 1.88\\ 9.855e8 2.12\\
9.965e8 1.80\\ 1.007e9 2.00\\ 1.017e9 1.74\\ 1.027e9 2.20\\ 1.037e9 1.90\\ 1.047e9 1.68\\ 1.054e9 2.08\\ 1.062e9 1.82\\ 1.070e9 1.96\\ 1.078e9 1.72\\
1.083e9 1.92\\ 1.093e9 1.64\\ 1.102e9 2.14\\ 1.110e9 1.78\\ 1.118e9 2.00\\ 1.126e9 1.68\\ 1.134e9 1.86\\ 1.142e9 1.60\\ 1.150e9 2.10\\ 1.158e9 1.74\\ 1.165e9 1.84\\
1.173e9 1.66\\ 1.183e9 1.94\\ 1.193e9 1.76\\ 1.203e9 2.06\\ 1.213e9 1.58\\ 1.223e9 1.86\\ 1.233e9 1.72\\ 1.243e9 1.98\\ 1.253e9 1.64\\ 1.263e9 1.80\\
1.284e9 1.66\\ 1.296e9 1.86\\ 1.308e9 1.62\\ 1.320e9 1.96\\ 1.332e9 1.52\\ 1.344e9 1.74\\ 1.356e9 1.92\\ 1.368e9 1.56\\ 1.380e9 1.80\\
1.404e9 1.70\\ 1.416e9 1.88\\ 1.428e9 1.56\\ 1.440e9 1.78\\ 1.452e9 1.60\\ 1.464e9 1.94\\ 1.476e9 1.46\\ 1.488e9 1.84\\
1.509e9 1.72\\ 1.521e9 1.54\\ 1.533e9 1.86\\ 1.545e9 1.62\\ 1.557e9 1.44\\ 1.569e9 1.78\\ 1.581e9 1.66\\ 1.593e9 1.50\\ 1.605e9 1.80\\
1.632e9 1.80\\ 1.648e9 1.52\\ 1.664e9 1.68\\ 1.680e9 1.44\\ 1.696e9 1.60\\ 1.712e9 1.82\\ 1.728e9 1.40\\
1.756e9 1.72\\ 1.772e9 1.54\\ 1.788e9 1.42\\ 1.804e9 1.64\\ 1.820e9 1.36\\ 1.836e9 1.70\\ 1.852e9 1.46\\ 1.868e9 1.56\\
1.892e9 1.50\\ 1.908e9 1.26\\ 1.924e9 1.46\\ 1.940e9 1.58\\ 1.956e9 1.30\\ 1.972e9 1.42\\ 1.988e9 1.24\\
2.045e9 1.38\\ 2.065e9 1.26\\ 2.085e9 1.48\\ 2.105e9 1.34\\ 2.125e9 1.22\\ 2.145e9 1.44\\ 2.165e9 1.30\\
2.205e9 1.26\\ 2.225e9 1.44\\ 2.245e9 1.30\\ 2.265e9 1.20\\ 2.285e9 1.38\\ 2.305e9 1.50\\ 2.325e9 1.24\\
2.385e9 1.40\\ 2.415e9 1.22\\ 2.435e9 1.36\\ 2.465e9 1.28\\ 2.495e9 1.44\\ 2.525e9 1.20\\
2.575e9 1.40\\ 2.605e9 1.28\\ 2.635e9 1.46\\ 2.665e9 1.32\\ 2.695e9 1.24\\ 2.735e9 1.36\\
2.775e9 1.44\\ 2.815e9 1.30\\ 2.855e9 1.38\\ 2.895e9 1.26\\ 2.935e9 1.40\\
2.995e9 1.32\\ 3.035e9 1.40\\ 3.075e9 1.24\\ 3.115e9 1.34\\ 3.155e9 1.28\\
3.235e9 1.22\\ 3.285e9 1.44\\ 3.335e9 1.36\\ 3.385e9 1.28\\
3.485e9 1.30\\ 3.545e9 1.40\\ 3.605e9 1.22\\ 3.665e9 1.32\\
3.785e9 1.40\\ 3.855e9 1.28\\ 3.925e9 1.32\\
4.065e9 1.42\\ 4.145e9 1.32\\ 4.225e9 1.28\\
4.385e9 1.30\\ 4.465e9 1.40\\ 4.545e9 1.24\\
4.765e9 1.44\\ 4.885e9 1.30\\ 5.165e9 1.34\\ 5.305e9 1.26\\
5.565e9 1.28\\ 5.815e9 1.36\\ 6.055e9 1.22\\ 6.255e9 1.40\\ 6.565e9 1.30\\ 6.815e9 1.24\\
};
\addplot[only marks, mark=*, mark size=1.35pt, color=jgreen, mark options={line width=0.15pt}, forget plot]
table[row sep=\\] {m r\\
1.47e8 3.33\\ 1.72e8 3.55\\ 1.74e8 3.42\\ 1.92e8 3.58\\ 2.03e8 3.42\\ 1.97e8 3.21\\ 1.89e8 3.10\\ 2.00e8 3.06\\ 2.12e8 3.05\\ 2.19e8 3.12\\
2.36e8 3.36\\ 2.45e8 3.28\\ 2.55e8 3.42\\ 2.27e8 2.90\\ 2.20e8 3.00\\ 2.07e8 2.68\\ 2.29e8 2.47\\ 2.47e8 2.61\\ 2.47e8 2.54\\ 2.64e8 3.03\\
2.88e8 3.07\\ 2.88e8 2.96\\ 2.86e8 2.52\\ 2.94e8 2.56\\ 2.97e8 2.34\\ 2.86e8 2.24\\ 3.10e8 2.42\\ 3.15e8 2.39\\ 3.17e8 1.94\\ 3.27e8 2.86\\
3.48e8 3.01\\ 3.87e8 2.99\\ 3.45e8 2.74\\ 3.45e8 2.67\\ 3.81e8 2.61\\ 3.32e8 2.31\\ 3.53e8 2.24\\ 3.35e8 2.17\\ 3.40e8 2.18\\ 3.72e8 2.19\\
3.67e8 2.09\\ 3.32e8 2.08\\ 3.40e8 2.05\\ 3.42e8 1.89\\ 3.75e8 2.40\\ 4.33e8 2.40\\ 5.05e8 2.46\\ 4.97e8 2.40\\ 5.17e8 2.44\\ 4.02e8 1.99\\
4.44e8 2.01\\ 4.68e8 2.07\\ 5.28e8 2.19\\ 5.32e8 2.06\\ 3.61e8 1.79\\ 4.11e8 1.93\\ 4.20e8 1.87\\ 4.44e8 1.91\\ 4.68e8 1.93\\ 4.72e8 1.85\\
4.17e8 1.82\\ 4.37e8 1.79\\ 4.54e8 1.79\\ 4.97e8 1.96\\ 5.09e8 1.93\\ 5.37e8 1.87\\ 5.98e8 1.85\\ 6.35e8 1.83\\ 7.01e8 1.75\\ 6.49e8 1.71\\
6.02e8 1.71\\ 5.17e8 1.71\\ 4.44e8 1.72\\ 4.27e8 1.65\\ 4.17e8 1.61\\ 4.27e8 1.59\\ 4.54e8 1.65\\ 4.79e8 1.65\\ 5.09e8 1.63\\ 4.27e8 1.54\\
5.24e8 1.70\\ 5.58e8 1.87\\ 6.40e8 1.65\\ 6.11e8 1.61\\ 5.66e8 1.56\\ 5.93e8 1.56\\ 6.25e8 1.56\\ 6.49e8 1.53\\ 6.16e8 1.52\\ 6.59e8 1.58\\
6.85e8 1.61\\ 6.90e8 1.54\\ 6.02e8 1.49\\ 5.93e8 1.46\\ 6.40e8 1.47\\ 6.64e8 1.47\\ 7.01e8 1.47\\ 7.17e8 1.49\\ 7.57e8 1.47\\ 6.02e8 1.41\\
6.35e8 1.41\\ 6.59e8 1.44\\ 6.85e8 1.42\\ 7.01e8 1.39\\ 6.11e8 1.33\\ 6.35e8 1.30\\ 6.85e8 1.35\\ 7.01e8 1.32\\ 7.17e8 1.30\\ 7.45e8 1.30\\
7.12e8 1.25\\ 7.74e8 1.27\\ 8.16e8 1.30\\ 8.67e8 1.29\\ 8.61e8 1.24\\ 8.95e8 1.23\\ 9.01e8 1.20\\ 8.48e8 1.22\\ 8.29e8 1.20\\ 7.12e8 1.19\\
7.40e8 1.19\\ 7.69e8 1.19\\ 7.01e8 1.16\\ 7.17e8 1.10\\ 8.48e8 1.18\\ 8.67e8 1.14\\ 8.81e8 1.11\\ 9.01e8 1.11\\ 7.01e8 1.03\\ 7.40e8 1.04\\
8.35e8 1.05\\ 8.48e8 1.00\\ 8.35e8 0.97\\ 8.67e8 0.98\\ 9.01e8 1.01\\ 9.29e8 1.02\\ 9.51e8 0.98\\ 8.61e8 0.94\\ 8.61e8 0.93\\ 9.88e8 0.90\\
3.59e8 1.41\\ 3.67e8 1.39\\ 4.72e8 1.50\\ 5.24e8 1.49\\ 5.05e8 1.38\\ 5.28e8 1.39\\ 7.74e8 1.47\\
};
\addplot[black, line width=0.6pt, dash pattern=on 5.7pt off 2.7pt, forget plot]
coordinates {(1e8,4.97) (1e9,3.83) (2e10,2.73)};
\addlegendimage{legend image code/.code={\fill[jpurple] (0.3cm,0cm) circle (4pt);}}
\addlegendentry{May+ 21}
\addlegendimage{legend image code/.code={\fill[jgreen] (0.3cm,0cm) circle (4pt);}}
\addlegendentry{Chan+ 22}
\addlegendimage{legend image code/.code={\draw[black, line width=0.6pt, dash pattern=on 5.7pt off 2.7pt] (0cm,0cm) -- (0.6cm,0cm);}}
\addlegendentry{$r_{\mathrm{c,\,max}}^{\mathrm{lim}}$}
\end{axis}
\pgfresetboundingbox
\path[use as bounding box] (-35.72pt,-41.04pt) rectangle (279.68pt,169.48pt);
\end{tikzpicture}
\end{document}
